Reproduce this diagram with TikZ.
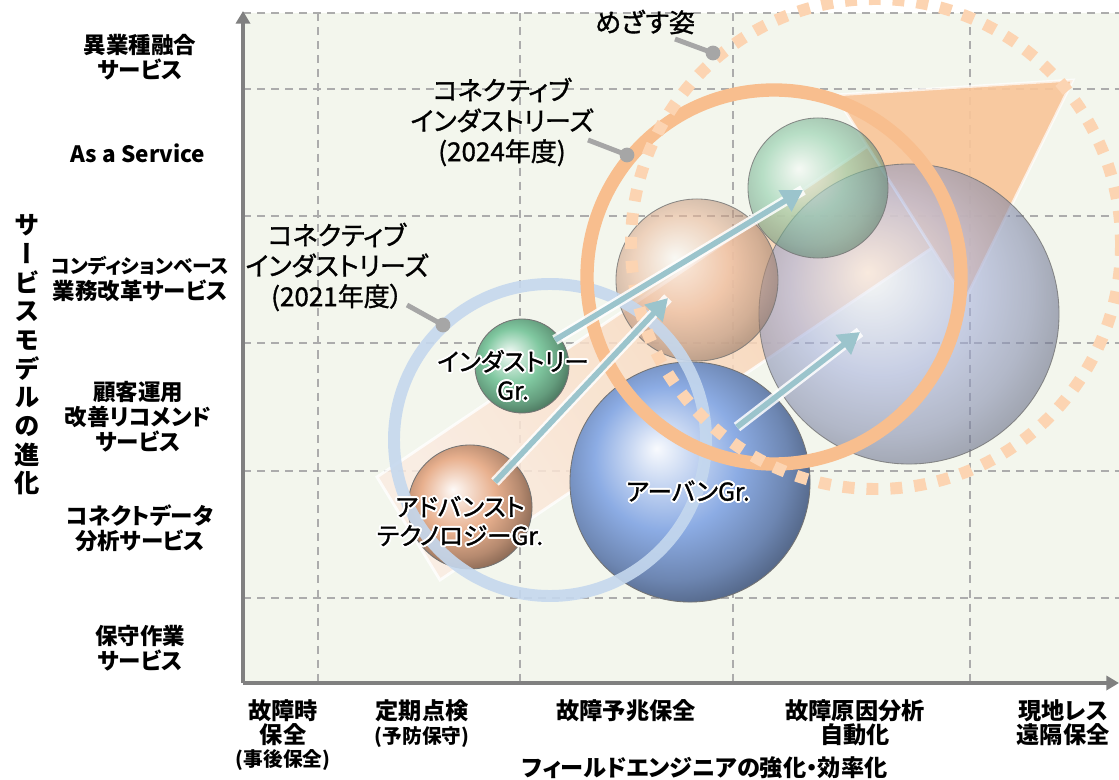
\documentclass[tikz,border=0pt]{standalone}
\usepackage{fontspec}
\setmainfont{Noto Sans CJK JP}[RawFeature=+palt]
\newfontfamily\midfont{Noto Sans CJK JP}[RawFeature=+palt, FakeBold=1.2]
\newfontfamily\vertfont{Noto Sans CJK JP}[RawFeature=+vert]
\usepackage[copies]{contour}
\contourlength{1.4pt}
\contournumber{12}
\usetikzlibrary{arrows.meta}
\definecolor{chartbg}{RGB}{243,246,237}
\definecolor{gridgray}{RGB}{172,172,172}
\definecolor{axisgray}{RGB}{128,128,128}
\definecolor{leadgray}{RGB}{166,166,166}
\definecolor{ringblue}{RGB}{197,216,238}
\definecolor{ringorange}{RGB}{248,190,142}
\definecolor{ringgoal}{RGB}{252,212,178}
\definecolor{peach}{RGB}{249,198,154}
\definecolor{palepeach}{RGB}{251,236,226}
\definecolor{arrowteal}{RGB}{155,196,204}
\definecolor{sphgreen}{RGB}{128,200,160}
\definecolor{sphtan}{RGB}{232,176,142}
\definecolor{sphblue}{RGB}{140,172,228}
\definecolor{sphgray}{RGB}{168,178,222}
% glossy bubble: bright spot up left, darker rim down right
\colorlet{sphcol}{gray}
\pgfdeclareradialshading[sphcol]{glassball}{\pgfqpoint{-7bp}{7bp}}{%
  color(0bp)=(sphcol!6!white); color(6bp)=(sphcol!45!white);
  color(15bp)=(sphcol); color(24bp)=(sphcol!78!black);
  color(32bp)=(sphcol!50!black); color(50bp)=(sphcol!35!black)}
\tikzset{
  ylab/.style={font=\fontsize{16}{17.8}\selectfont\bfseries, align=center},
  xlab/.style={font=\fontsize{16.5}{17}\selectfont\bfseries, align=center, anchor=north, inner sep=0pt},
  note/.style={font=\midfont\fontsize{18.5}{21.7}\selectfont, align=center},
  grp/.style={font=\midfont\fontsize{17.5}{20.5}\selectfont, align=center},
  gridline/.style={gridgray, line width=1.4pt, dash pattern=on 5.7pt off 4.3pt},
  axis/.style={axisgray, line width=2.2pt, -{Triangle[length=9pt,width=10pt]}},
  leader/.style={leadgray, line width=3.5pt},
  leaddot/.style={circle, fill=leadgray, inner sep=0pt, minimum size=10.5pt},
  sphere/.style={circle, inner sep=0pt, minimum size=#1, draw=black!55, line width=.6pt},
  bubble/.style={/utils/exec={\colorlet{sphcol}{#1}}, shade, shading=glassball},
  glass/.style={fill opacity=.58, draw opacity=.8},
  growth/.style={arrowteal, line width=4pt, -{Triangle[length=15pt,width=17pt]},
    preaction={draw=white, line width=7.5pt, draw opacity=.85, -}},
}
\begin{document}
\begin{tikzpicture}[x=0.025cm, y=-0.025cm]
\useasboundingbox (0,0) rectangle (1119,780);

% chart area and grid
\fill[chartbg] (243,13) rectangle (1119,683);
\foreach \y in {13,89,216,343,471,598}
  \draw[gridline] (243,\y) -- (1119,\y);
\foreach \x in {318,520,733,970}
  \draw[gridline] (\x,13) -- (\x,683);

% wide arrow behind the bubbles
\shade[bottom color=palepeach, top color=peach!80!palepeach, shading angle=-56,
  fill opacity=.85, draw=white, draw opacity=.8, line width=2pt]
  (377,477) -- (868,146) -- (932,248) -- (440,580) -- cycle;
\fill[peach, fill opacity=.92, draw=white, draw opacity=.7, line width=2pt]
  (835,95) -- (1073,80) -- (965,300) -- cycle;

% groups 2021
\node[sphere=2.35cm, bubble=sphgreen] (ind21) at (522,366) {};
\node[sphere=3.1cm, bubble=sphtan] (adv21) at (470,507) {};
\node[sphere=6cm, bubble=sphblue] (urb21) at (690,482) {};

% groups 2024
\node[sphere=7.5cm, bubble=sphgray, glass] (urb24) at (909,314) {};
\node[sphere=4.05cm, bubble=sphtan!90!white, glass] (adv24) at (697,280) {};
\node[sphere=3.5cm, bubble=sphgreen!90!white, glass] (ind24) at (818,188) {};

% rings
\draw[ringblue, line width=8.5pt, opacity=.9] (550,440) circle (156);
\draw[ringorange, line width=9.5pt] (774,277) circle (187);
\draw[ringgoal, line width=8.5pt, dash pattern=on 8.5pt off 8.5pt] (876,244) circle (245);

% growth arrows
\coordinate (g1s) at (495,482); \coordinate (g1e) at (668,298);
\coordinate (g2s) at (555,340); \coordinate (g2e) at (803,190);
\coordinate (g3s) at (737,427); \coordinate (g3e) at (860,332);
\foreach \a/\b in {g1s/g1e, g2s/g2e, g3s/g3e}
  \draw[growth] (\a) -- (\b);

% axes
\coordinate (origin) at (243,683);
\coordinate (ytop) at (243,11);
\coordinate (xend) at (1119,683);
\draw[axis] (origin) -- (ytop);
\draw[axis] (origin) -- (xend);

% callouts
\node[note] (goal) at (645,22) {めざす姿};
\node[note] (ci24) at (502,122) {コネクティブ\\インダストリーズ\\(2024年度)};
\node[note] (ci21) at (337,267) {コネクティブ\\インダストリーズ\\(2021年度）};
\node[leaddot] (goaldot) at (713,53) {};
\node[leaddot] (ci24dot) at (627,155) {};
\node[leaddot] (ci21dot) at (443,325) {};
\coordinate (goaltail) at (675,39);
\coordinate (ci24tail) at (588,140);
\coordinate (ci21tail) at (407,305);
\foreach \a/\b in {goaltail/goaldot, ci24tail/ci24dot, ci21tail/ci21dot}
  \draw[leader] (\a) -- (\b.center);

% group names
\node[grp] (ind21lab) at (513,376) {\contour{white}{インダストリー}\\\contour{white}{Gr.}};
\node[grp] (adv21lab) at (460,522) {\contour{white}{アドバンスト}\\\contour{white}{テクノロジーGr.}};
\node[grp] (urb21lab) at (688,492) {\contour{white}{アーバンGr.}};

% vertical axis labels
\node[ylab] (svc6) at (140,57) {異業種融合\\サービス};
\node[ylab] (svc5) at (138,153) {As a Service};
\node[ylab] (svc4) at (140,279) {{\fontsize{14}{17.8}\selectfont コンディションベース}\\業務改革サービス};
\node[ylab] (svc3) at (138,417) {顧客運用\\改善リコメンド\\サービス};
\node[ylab] (svc2) at (140,528) {コネクトデータ\\分析サービス};
\node[ylab] (svc1) at (140,648) {保守作業\\サービス};
\node[font=\vertfont\bfseries\fontsize{18}{20.4}\selectfont, align=center] (ytitle) at (27,355)
  {サ\\ー\\ビ\\ス\\モ\\デ\\ル\\の\\進\\化};

% horizontal axis labels
\node[xlab] (mnt1) at (283,699) {故障時\\保全\\{\fontsize{14}{17}\selectfont(事後保全)}};
\node[xlab] (mnt2) at (422,699) {定期点検\\{\fontsize{14}{17}\selectfont(予防保守)}};
\node[xlab] (mnt3) at (626,699) {故障予兆保全};
\node[xlab] (mnt4) at (855,699) {故障原因分析\\自動化};
\node[xlab] (mnt5) at (1063,699) {現地レス\\遠隔保全};
\node[font=\fontsize{16.5}{17}\selectfont\bfseries] (xtitle) at (705,768) {フィールドエンジニアの強化・効率化};
\end{tikzpicture}
\end{document}
